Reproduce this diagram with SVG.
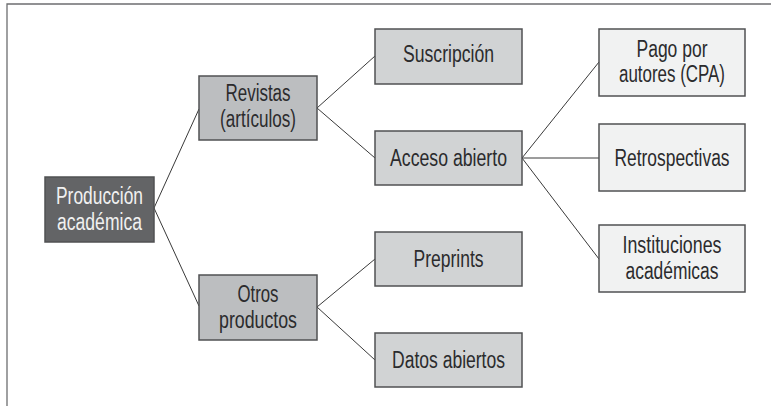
<svg xmlns="http://www.w3.org/2000/svg" width="774" height="406" viewBox="0 0 774 406">
<style>
text{font-family:"Liberation Sans",Arial,sans-serif;font-size:23px;fill:#2b2b2d;text-anchor:middle}
.n rect{stroke:#505153;stroke-width:1.5}
.d rect{fill:#636466}
.d text{fill:#f1f1f1}
.m rect{fill:#bcbec0}
.l rect{fill:#d1d3d4}
.x rect{fill:#f1f2f2}
#conn line{stroke:#3a3a3a;stroke-width:1}
</style>
<rect width="774" height="406" fill="#fff"/>
<path d="M7 406 V4 H771" fill="none" stroke="#6d6e70" stroke-width="1.3"/>
<g id="conn">
<line x1="154" y1="208" x2="199" y2="109"/>
<line x1="154" y1="208" x2="199" y2="306"/>
<line x1="317" y1="108" x2="375" y2="56"/>
<line x1="317" y1="108" x2="375" y2="158"/>
<line x1="317" y1="307" x2="375" y2="259"/>
<line x1="317" y1="307" x2="375" y2="360"/>
<line x1="522" y1="158" x2="599" y2="62"/>
<line x1="522" y1="158" x2="599" y2="158"/>
<line x1="522" y1="158" x2="599" y2="259"/>
</g>
<g id="produccion" class="n d"><rect x="45" y="177" width="109" height="65"/>
<text x="99.5" y="204" textLength="87" lengthAdjust="spacingAndGlyphs">Producción</text>
<text x="99.5" y="230" textLength="85" lengthAdjust="spacingAndGlyphs">académica</text></g>
<g id="revistas" class="n m"><rect x="199" y="76" width="118" height="64"/>
<text x="258" y="100.5" textLength="65" lengthAdjust="spacingAndGlyphs">Revistas</text>
<text x="258" y="127" textLength="76" lengthAdjust="spacingAndGlyphs">(artículos)</text></g>
<g id="otros" class="n m"><rect x="199" y="275" width="118" height="65"/>
<text x="258" y="301.5" textLength="41" lengthAdjust="spacingAndGlyphs">Otros</text>
<text x="258" y="328" textLength="78" lengthAdjust="spacingAndGlyphs">productos</text></g>
<g id="suscripcion" class="n l"><rect x="375" y="29" width="147" height="55"/>
<text x="448.5" y="62" textLength="91" lengthAdjust="spacingAndGlyphs">Suscripción</text></g>
<g id="acceso" class="n l"><rect x="375" y="131" width="147" height="54"/>
<text x="448.5" y="166" textLength="117" lengthAdjust="spacingAndGlyphs">Acceso abierto</text></g>
<g id="preprints" class="n l"><rect x="375" y="232" width="147" height="54"/>
<text x="448.5" y="267" textLength="70" lengthAdjust="spacingAndGlyphs">Preprints</text></g>
<g id="datos" class="n l"><rect x="375" y="333" width="147" height="54"/>
<text x="448.5" y="368" textLength="113" lengthAdjust="spacingAndGlyphs">Datos abiertos</text></g>
<g id="pago" class="n x"><rect x="599" y="29" width="146" height="67"/>
<text x="672" y="57" textLength="71" lengthAdjust="spacingAndGlyphs">Pago por</text>
<text x="672" y="82" textLength="106" lengthAdjust="spacingAndGlyphs">autores (CPA)</text></g>
<g id="retro" class="n x"><rect x="599" y="124" width="146" height="67"/>
<text x="672" y="166" textLength="115" lengthAdjust="spacingAndGlyphs">Retrospectivas</text></g>
<g id="instituciones" class="n x"><rect x="599" y="225" width="146" height="67"/>
<text x="672" y="253" textLength="99" lengthAdjust="spacingAndGlyphs">Instituciones</text>
<text x="672" y="279" textLength="93" lengthAdjust="spacingAndGlyphs">académicas</text></g>
</svg>
